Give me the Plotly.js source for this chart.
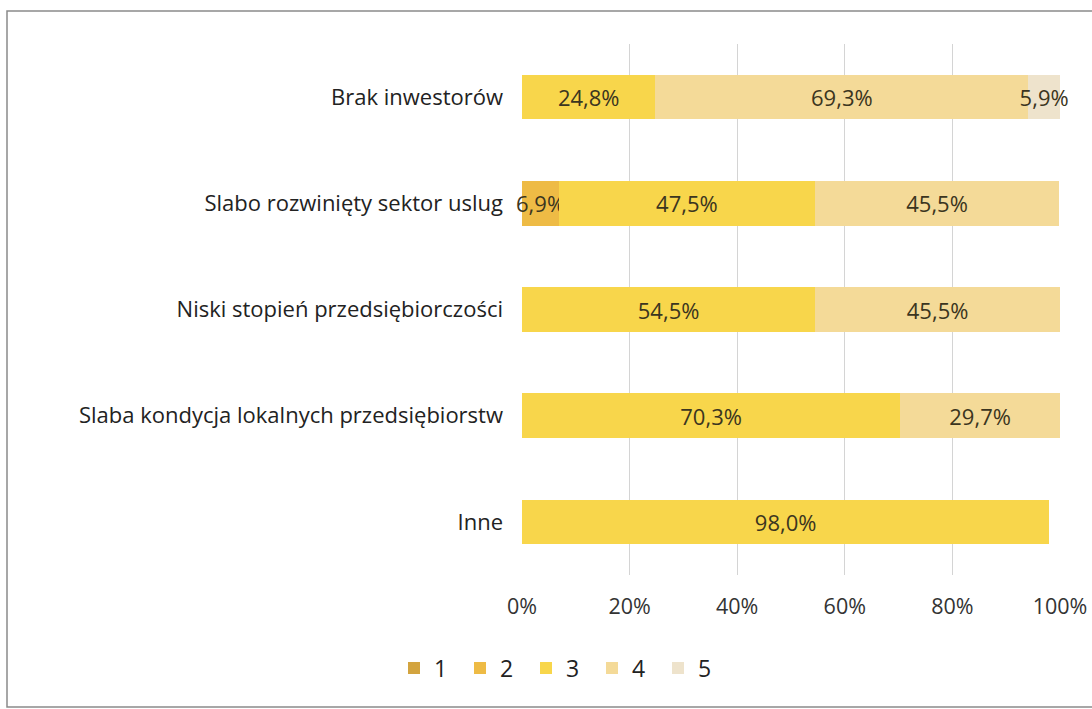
<!DOCTYPE html>
<html>
<head>
<meta charset="utf-8">
<script src="https://cdn.plot.ly/plotly-3.0.1.min.js"></script>
<style>html,body{margin:0;padding:0;background:#fff;}#chart{width:1092px;height:709px;}</style>
</head>
<body>
<div id="chart"></div>
<script>
const categories = ["Brak inwestorów", "Slabo rozwinięty sektor uslug", "Niski stopień przedsiębiorczości", "Slaba kondycja lokalnych przedsiębiorstw", "Inne"];
const seriesNames = ["1", "2", "3", "4", "5"];
const s1 = [null, null, null, null, null];
const s2 = [null, 6.9, null, null, null];
const s3 = [24.8, 47.5, 54.5, 70.3, 98.0];
const s4 = [69.3, 45.5, 45.5, 29.7, null];
const s5 = [5.9, null, null, null, null];
const colors = ["#D3A43F", "#EEBB45", "#F8D64B", "#F4DA98", "#EEE3CC"];
const xTicks = [0, 20, 40, 60, 80, 100];
const xTickText = ["0%", "20%", "40%", "60%", "80%", "100%"];

const allSeries = [s1, s2, s3, s4, s5];
const FONT = "'Open Sans', 'DejaVu Sans', sans-serif";
const traces = allSeries.map((vals, i) => ({
  type: "bar",
  orientation: "h",
  name: seriesNames[i],
  y: categories,
  x: vals.map(v => v === null ? 0 : v),
  text: vals.map(v => v === null ? "" : v.toFixed(1).replace(".", ",") + "%"),
  textposition: "inside",
  insidetextanchor: "middle",
  textangle: 0,
  constraintext: "none",
  cliponaxis: false,
  textfont: {family: FONT, size: 22, color: "#3b3520"},
  marker: {color: colors[i], line: {width: 0}},
  hoverinfo: "skip"
}));

const px = v => (v - 522) / 538;
const py = v => (575 - v) / 531;

const layout = {
  width: 1092, height: 709,
  margin: {l: 522, r: 32, t: 44, b: 134},
  barmode: "stack",
  bargap: 0.58,
  paper_bgcolor: "#ffffff",
  plot_bgcolor: "#ffffff",
  font: {family: FONT, color: "#222"},
  xaxis: {
    range: [0, 100], tickvals: xTicks, ticktext: xTickText,
    showgrid: true, gridcolor: "#d4d4d4", gridwidth: 1,
    zeroline: false, showline: false,
    ticks: "", ticklabelstandoff: 16,
    tickfont: {size: 21.5, color: "#333"}
  },
  yaxis: {
    autorange: "reversed", type: "category",
    showgrid: false, zeroline: false, showline: false,
    ticks: "", ticklabelstandoff: 18,
    tickfont: {size: 22, color: "#222"}
  },
  showlegend: true,
  legend: {
    orientation: "h", x: px(394), xanchor: "left", y: py(668), yanchor: "middle",
    font: {size: 23, color: "#222"}, traceorder: "normal",
    itemwidth: 30, entrywidth: 21, entrywidthmode: "pixels", bgcolor: "rgba(0,0,0,0)"
  },
  shapes: [{
    type: "rect", xref: "paper", yref: "paper",
    x0: px(7), x1: px(1100), y0: py(707), y1: py(11),
    line: {color: "#8a8a8a", width: 1.5}, fillcolor: "rgba(0,0,0,0)", layer: "below"
  }]
};

Plotly.newPlot("chart", traces, layout, {displayModeBar: false, staticPlot: true});
</script>
</body>
</html>
